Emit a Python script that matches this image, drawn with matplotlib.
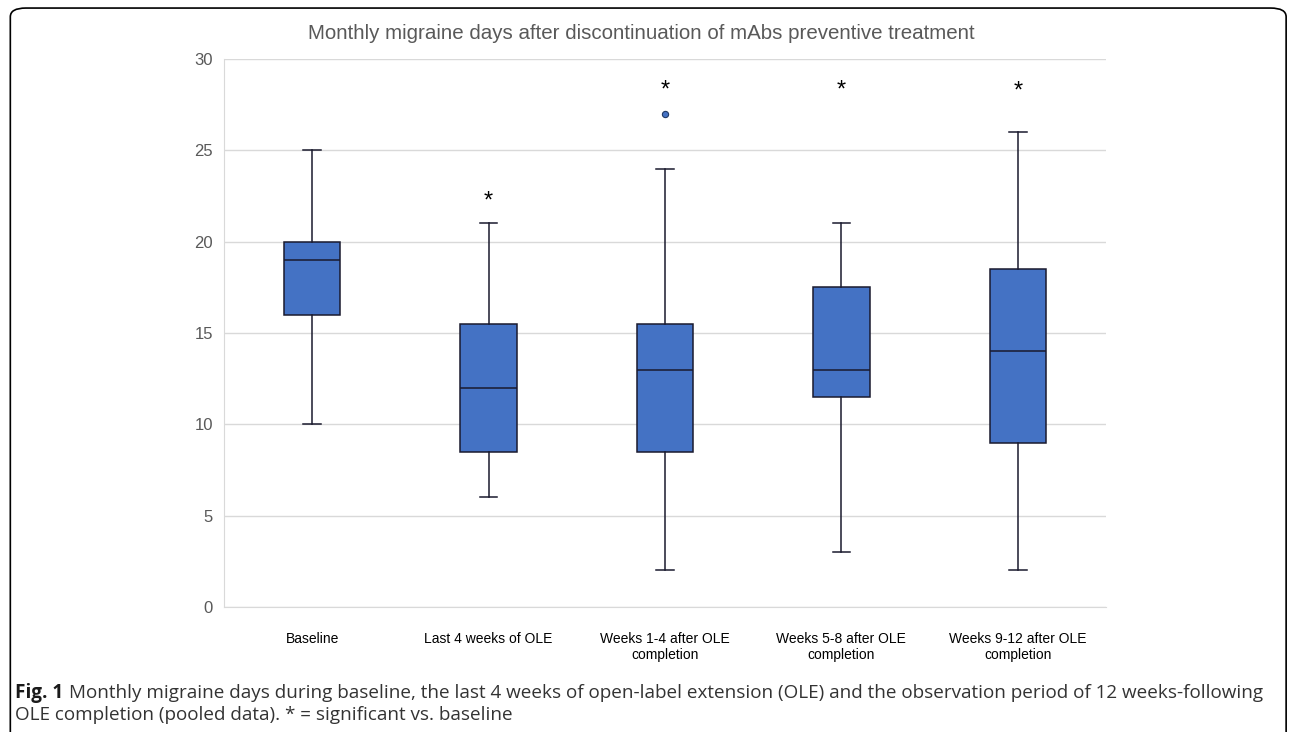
import numpy as np
import matplotlib.pyplot as plt
from matplotlib.patches import FancyBboxPatch

# monthly migraine days, five periods
labels = ["Baseline", "Last 4 weeks of OLE", "Weeks 1-4 after OLE\ncompletion",
          "Weeks 5-8 after OLE\ncompletion", "Weeks 9-12 after OLE\ncompletion"]
whislo = [10, 6, 2, 3, 2]
q1 = [16, 8.5, 8.5, 11.5, 9]
med = [19, 12, 13, 13, 14]
q3 = [20, 15.5, 15.5, 17.5, 18.5]
whishi = [25, 21, 24, 21, 26]
fliers = [[], [], [27], [], []]
# asterisk (significant vs baseline) heights
star_pos = [1, 2, 3, 4]
star_y = [22.2, 28.3, 28.3, 28.2]

stats = []
for i in range(len(labels)):
    stats.append(dict(label=labels[i], whislo=whislo[i], q1=q1[i], med=med[i],
                      q3=q3[i], whishi=whishi[i], fliers=fliers[i]))

plt.rcParams['font.family'] = ['Liberation Sans', 'DejaVu Sans']
fig = plt.figure(figsize=(12.9, 7.32), dpi=100)
ax = fig.add_axes([0.1736, 0.1708, 0.6838, 0.7486])

edge = "#1a1a2e"
ax.bxp(stats, positions=range(5), widths=0.32, capwidths=0.1, patch_artist=True,
       boxprops=dict(facecolor="#4472C4", edgecolor=edge, linewidth=1.1),
       medianprops=dict(color=edge, linewidth=1.1),
       whiskerprops=dict(color=edge, linewidth=1.1),
       capprops=dict(color=edge, linewidth=1.1),
       flierprops=dict(marker="o", markerfacecolor="#4472C4", markeredgecolor="#1f3864",
                       markersize=4.5, markeredgewidth=0.8),
       zorder=3)

for x, y in zip(star_pos, star_y):
    ax.text(x, y, "*", ha="center", va="center", fontsize=17, color="black")

ax.set_xlim(-0.5, 4.5)
ax.set_ylim(0, 30)
ax.set_yticks(range(0, 31, 5))
ax.yaxis.grid(True, color="#d9d9d9", linewidth=1)
ax.set_axisbelow(True)
for s in ["top", "right"]:
    ax.spines[s].set_visible(False)
ax.spines["bottom"].set_color("#d9d9d9")
ax.spines["left"].set_color("#d9d9d9")
ax.tick_params(axis="both", length=0, colors="#595959")
ax.tick_params(axis="y", pad=8, labelsize=12)
ax.tick_params(axis="x", pad=18, labelcolor="black", labelsize=10)
ax.set_xticks(range(5))
ax.set_xticklabels(labels)

fig.text(0.497, 0.954, "Monthly migraine days after discontinuation of mAbs preventive treatment",
         ha="center", va="center", fontsize=14.8, color="#595959")

# caption
cap_font = ['Open Sans', 'DejaVu Sans']
cap_col = "#333333"
t1 = fig.text(0.012, 0.047, "Fig. 1", fontsize=13.6, fontweight="bold", color="#1a1a1a",
              family=cap_font, va="baseline")
fig.canvas.draw()
bb = t1.get_window_extent()
x0 = bb.x1 / fig.bbox.width + 0.004
fig.text(x0, 0.047, "Monthly migraine days during baseline, the last 4 weeks of open-label extension (OLE) and the observation period of 12 weeks-following",
         fontsize=13.6, color=cap_col, family=cap_font, va="baseline")
fig.text(0.012, 0.016, "OLE completion (pooled data). * = significant vs. baseline",
         fontsize=13.6, color=cap_col, family=cap_font, va="baseline")

border = FancyBboxPatch((0.008, -0.05), 0.989, 1.039, boxstyle="round,pad=0,rounding_size=0.012",
                        transform=fig.transFigure, fill=False, edgecolor="black", linewidth=1.2,
                        clip_on=False)
fig.patches.append(border)

fig.savefig("out.png", dpi=100)
